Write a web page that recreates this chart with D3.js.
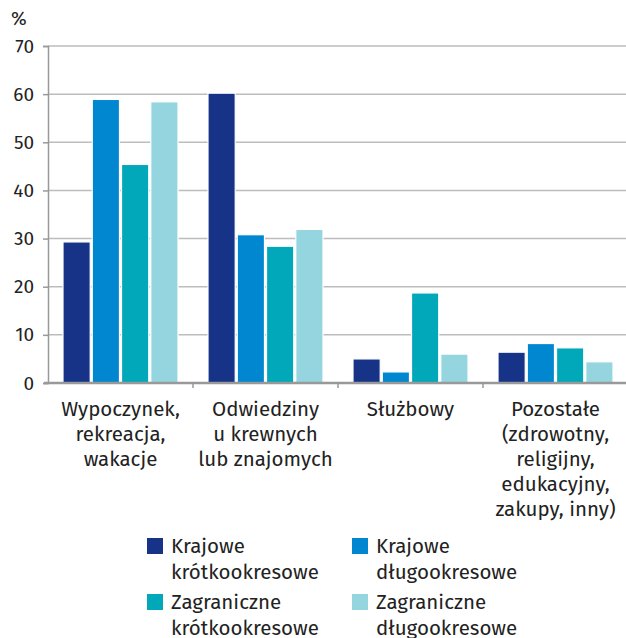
<!DOCTYPE html>
<html>
<head>
<meta charset="utf-8">
<script src="https://cdn.jsdelivr.net/npm/d3@7"></script>
<style>
body { margin: 0; background: #fff; }
text { font-family: "Fira Sans", "Open Sans", sans-serif; fill: #222; }
</style>
</head>
<body>
<script>
// categories (multi-line labels)
var categories = ["wyp", "odw", "slu", "poz"];
var categoryLabels = [
    ["Wypoczynek,", "rekreacja,", "wakacje"],
    ["Odwiedziny", "u krewnych", "lub znajomych"],
    ["Służbowy"],
    ["Pozostałe", "(zdrowotny,", "religijny,", "edukacyjny,", "zakupy, inny)"]
];
var seriesNames = ["Krajowe krótkookresowe", "Krajowe długookresowe", "Zagraniczne krótkookresowe", "Zagraniczne długookresowe"];
var krajoweKrotko = [29.3, 60.2, 5.0, 6.4];
var krajoweDlugo = [58.9, 30.8, 2.3, 8.2];
var zagraniczneKrotko = [45.4, 28.4, 18.7, 7.3];
var zagraniczneDlugo = [58.4, 31.9, 6.0, 4.4];
var yTicks = [0, 10, 20, 30, 40, 50, 60, 70];
var colors = ["#163388", "#0087d0", "#00a8b9", "#94d5e0"];

var series = [krajoweKrotko, krajoweDlugo, zagraniczneKrotko, zagraniczneDlugo];

var w = 626;
var h = 638;

var svg = d3.select("body")
    .append("svg")
    .attr("width", w)
    .attr("height", h);

var y = d3.scaleLinear().domain([0, 70]).range([383, 46]);
var x0 = d3.scaleBand().domain(categories).range([48, 628]);
var x1 = d3.scaleBand().domain(d3.range(4)).range([15, 130]).paddingInner(0.07);

// gridlines
svg.selectAll("line.grid")
    .data(yTicks.slice(1))
    .enter()
    .append("line")
    .attr("class", "grid")
    .attr("x1", 48)
    .attr("x2", w)
    .attr("y1", function(d){ return y(d); })
    .attr("y2", function(d){ return y(d); })
    .attr("stroke", "#bdbdbd")
    .attr("stroke-width", 1.5);

// y axis
var yAxis = svg.append("g")
    .attr("transform", "translate(48,0)")
    .call(d3.axisLeft(y).tickValues(yTicks).tickSize(5).tickPadding(9));
yAxis.select(".domain").attr("stroke", "#999").attr("stroke-width", 1.5);
yAxis.selectAll(".tick line").attr("stroke", "#999").attr("stroke-width", 1.5);
yAxis.selectAll(".tick text")
    .attr("font-size", "19px")
    .attr("font-family", "'Fira Sans', 'Open Sans', sans-serif")
    .attr("fill", "#222");

svg.append("text")
    .attr("x", 11)
    .attr("y", 25)
    .attr("font-size", "19px")
    .text("%");

// bars
var groups = svg.selectAll("g.grp")
    .data(categories)
    .enter()
    .append("g")
    .attr("class", "grp")
    .attr("transform", function(d){ return "translate(" + x0(d) + ",0)"; });

groups.selectAll("rect")
    .data(function(d, ci){
        return series.map(function(s, si){ return {si: si, v: s[ci]}; });
    })
    .enter()
    .append("rect")
    .attr("x", function(d){ return x1(d.si); })
    .attr("y", function(d){ return y(d.v); })
    .attr("width", x1.bandwidth())
    .attr("height", function(d){ return y(0) - y(d.v); })
    .attr("fill", function(d){ return colors[d.si]; })
    .attr("stroke", "#fff")
    .attr("stroke-width", 1.2);

// x axis line and ticks
svg.append("line")
    .attr("x1", 44).attr("x2", w)
    .attr("y1", y(0)).attr("y2", y(0))
    .attr("stroke", "#999")
    .attr("stroke-width", 2.5);

svg.selectAll("line.xtick")
    .data(categories.slice(1))
    .enter()
    .append("line")
    .attr("class", "xtick")
    .attr("x1", function(d){ return x0(d); })
    .attr("x2", function(d){ return x0(d); })
    .attr("y1", y(0))
    .attr("y2", y(0) + 5)
    .attr("stroke", "#999")
    .attr("stroke-width", 1.5);

// category labels
svg.selectAll("text.cat")
    .data(categories)
    .enter()
    .append("text")
    .attr("class", "cat")
    .attr("text-anchor", "middle")
    .attr("font-size", "20.5px")
    .each(function(d, i){
        var t = d3.select(this);
        categoryLabels[i].forEach(function(line, j){
            t.append("tspan")
                .attr("x", x0(d) + x0.bandwidth() / 2)
                .attr("y", 416 + j * 25)
                .text(line);
        });
    });

// legend
var legendX = [147, 352];
var legendY = [538, 594];
var legend = svg.selectAll("g.leg")
    .data(seriesNames)
    .enter()
    .append("g")
    .attr("class", "leg")
    .attr("transform", function(d, i){
        return "translate(" + legendX[i % 2] + "," + legendY[Math.floor(i / 2)] + ")";
    });

legend.append("rect")
    .attr("width", 16)
    .attr("height", 16)
    .attr("fill", function(d, i){ return colors[i]; });

legend.append("text")
    .attr("font-size", "20.5px")
    .each(function(d){
        var t = d3.select(this);
        var parts = d.split(" ");
        parts.forEach(function(p, j){
            t.append("tspan")
                .attr("x", 24)
                .attr("y", 15 + j * 26)
                .text(p);
        });
    });
</script>
</body>
</html>
